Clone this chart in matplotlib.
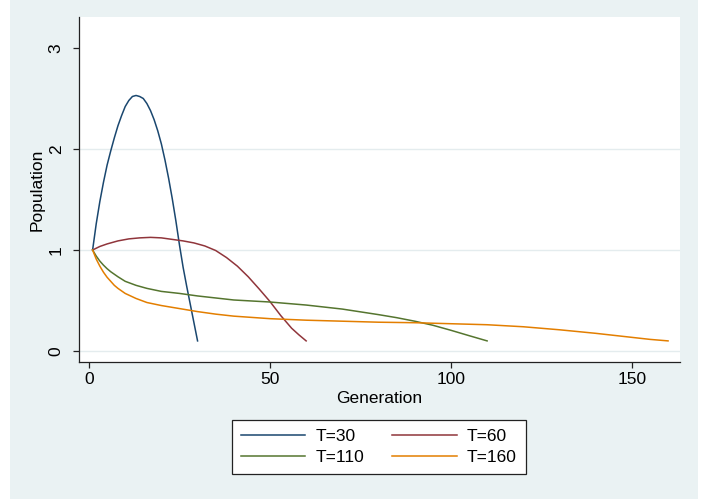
import matplotlib
matplotlib.use("Agg")
import matplotlib.pyplot as plt
from matplotlib.patches import Rectangle

# Population by generation
gen_30 = [1, 2, 3, 4, 5, 6, 7, 8, 9, 10, 11, 12, 13, 14, 15, 16, 17, 18, 19, 20,
          21, 22, 23, 24, 25, 26, 27, 28, 29, 30]
pop_30 = [1.00, 1.26, 1.48, 1.67, 1.84, 1.98, 2.11, 2.23, 2.33, 2.42, 2.48, 2.52, 2.53,
          2.52, 2.50, 2.45, 2.38, 2.29, 2.18, 2.05, 1.89, 1.71, 1.51, 1.29, 1.05,
          0.83, 0.64, 0.46, 0.28, 0.10]

gen_60 = [1, 3, 5, 8, 11, 14, 17, 20, 23, 26, 29, 32, 35, 38, 41, 44, 47, 50, 53, 56, 58, 60]
pop_60 = [1.00, 1.035, 1.06, 1.09, 1.11, 1.12, 1.125, 1.12, 1.105, 1.09, 1.07, 1.04,
          0.995, 0.925, 0.84, 0.735, 0.615, 0.49, 0.35, 0.225, 0.16, 0.10]

gen_110 = [1, 2, 3, 4, 5, 6, 7, 8, 10, 13, 16, 20, 25, 30, 40, 50, 60, 70, 80, 85, 90,
           95, 100, 105, 110]
pop_110 = [1.00, 0.94, 0.89, 0.85, 0.815, 0.785, 0.76, 0.735, 0.69, 0.65, 0.62, 0.59,
           0.57, 0.545, 0.505, 0.485, 0.455, 0.415, 0.36, 0.33, 0.295, 0.255, 0.205,
           0.152, 0.10]

gen_160 = [1, 2, 3, 4, 5, 6, 7, 8, 10, 13, 16, 20, 25, 30, 35, 40, 50, 60, 70, 80, 90,
           100, 110, 120, 130, 140, 145, 150, 155, 160]
pop_160 = [1.00, 0.91, 0.84, 0.78, 0.73, 0.69, 0.65, 0.62, 0.57, 0.52, 0.48, 0.45,
           0.42, 0.39, 0.365, 0.345, 0.32, 0.305, 0.295, 0.285, 0.28, 0.27, 0.26, 0.24,
           0.21, 0.175, 0.155, 0.135, 0.115, 0.10]

series = [
    ("T=30", gen_30, pop_30, "#1a476f"),
    ("T=60", gen_60, pop_60, "#90353b"),
    ("T=110", gen_110, pop_110, "#55752f"),
    ("T=160", gen_160, pop_160, "#e37e00"),
]

plt.rcParams['font.family'] = ['Liberation Sans', 'DejaVu Sans']
FS = 12.5

fig = plt.figure(figsize=(7.16, 4.99), dpi=100)
fig.patch.set_facecolor("white")
# stata-style graph region, drawn behind the axes
fig.add_artist(Rectangle((10 / 716, 0), 688 / 716, 1, transform=fig.transFigure,
                         facecolor="#eaf2f3", edgecolor="none", zorder=-5))

ax = fig.add_axes([79 / 716, 1 - 362 / 499, 601 / 716, 345 / 499])
ax.set_facecolor("white")

lines = {}
for lab, g, p, c in series:
    lines[lab], = ax.plot(g, p, color=c, lw=1.1, label=lab)

ax.set_xlim(-2.76, 163.3)
ax.set_ylim(-0.109, 3.307)
ax.set_xticks([0, 50, 100, 150])
ax.set_yticks([0, 1, 2, 3])
for yv in [0, 1, 2]:
    ax.axhline(yv, color="#e4ecee", lw=1.0, zorder=0)

for s in ["top", "right"]:
    ax.spines[s].set_visible(False)
for s in ["left", "bottom"]:
    ax.spines[s].set_color("#222222")
    ax.spines[s].set_linewidth(0.9)

ax.tick_params(axis="both", direction="out", length=4.5, width=0.9, color="#222222",
               labelsize=FS)
ax.tick_params(axis="x", pad=2.5)
ax.tick_params(axis="y", pad=6.5)
for t in ax.get_yticklabels():
    t.set_rotation(90)
    t.set_va("center")

ax.set_xlabel("Generation", fontsize=FS, labelpad=3)
ax.set_ylabel("Population", fontsize=FS, labelpad=3)

# row-wise legend order (matplotlib fills columns first)
order = ["T=30", "T=110", "T=60", "T=160"]
leg = fig.legend([lines[k] for k in order], order, loc="center",
                 bbox_to_anchor=(379 / 716, 1 - 447 / 499), ncol=2,
                 fontsize=FS, frameon=True, fancybox=False, framealpha=1,
                 facecolor="white", handlelength=3.7, handletextpad=0.6,
                 columnspacing=1.6, borderpad=0.55, labelspacing=0.3)
leg.get_frame().set_edgecolor("#222222")
leg.get_frame().set_linewidth(0.9)

fig.savefig("out.png", dpi=100, facecolor=fig.get_facecolor())
